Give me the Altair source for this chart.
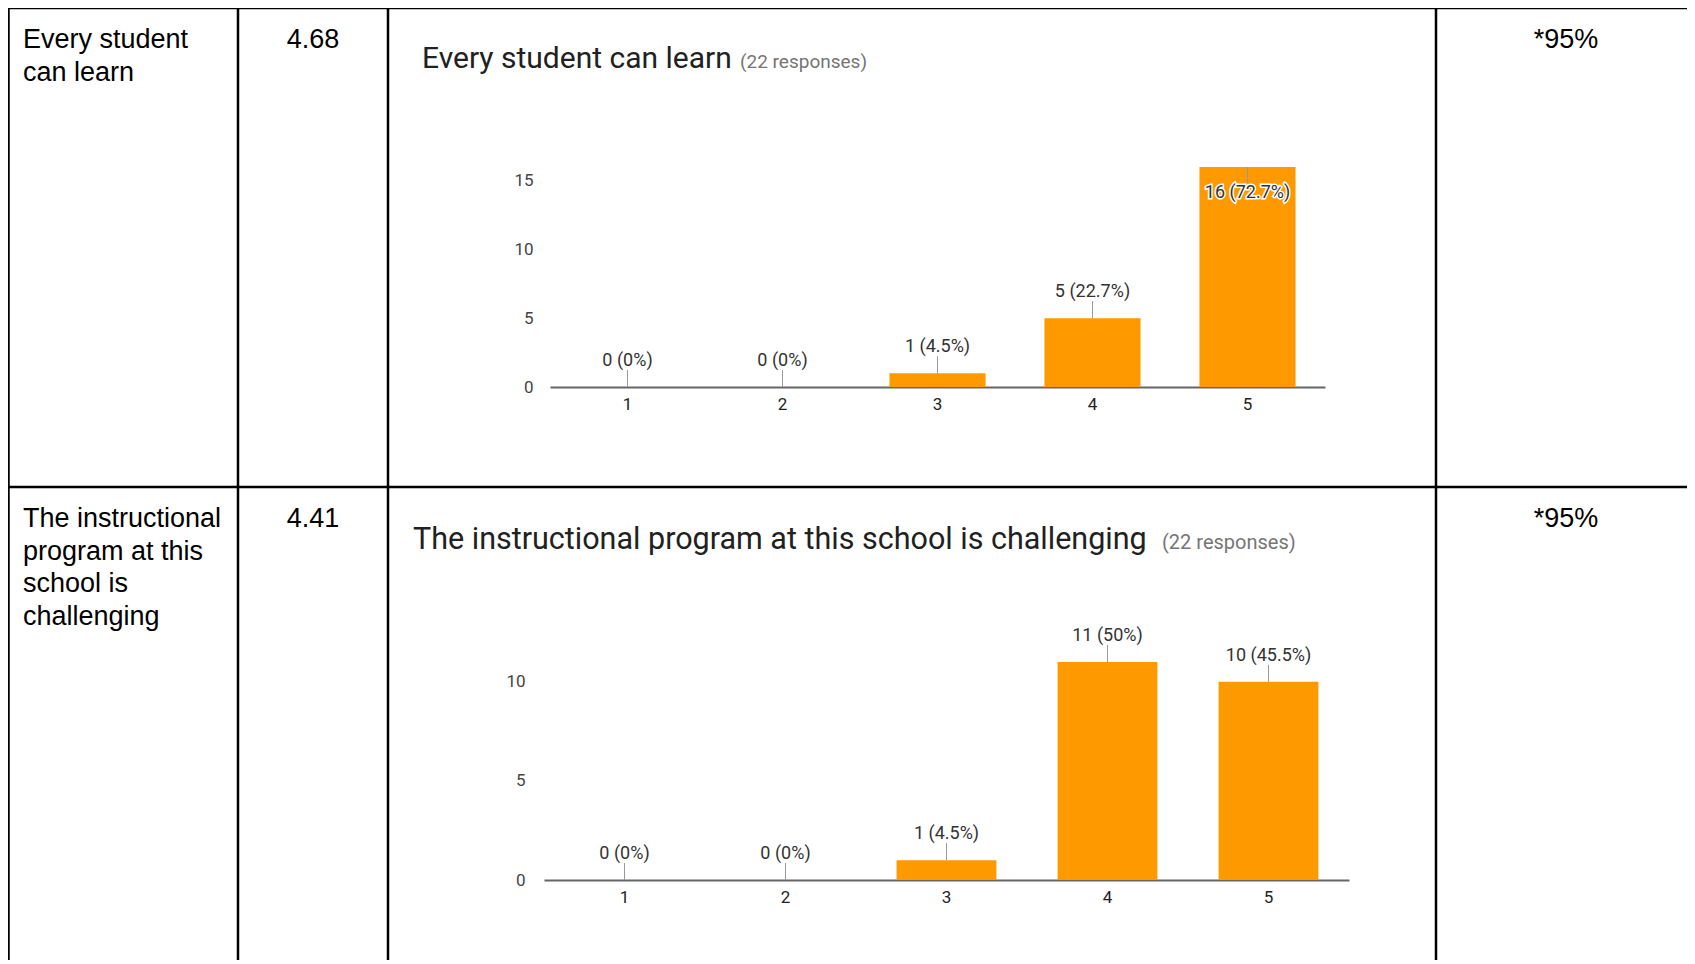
import altair as alt
import pandas as pd

# ---------------- data ----------------
row_labels = ["Every student\ncan learn",
              "The instructional\nprogram at this\nschool is\nchallenging"]
row_means = ["4.68", "4.41"]
row_pcts = ["*95%", "*95%"]
chart_titles = ["Every student can learn",
                "The instructional program at this school is challenging"]
responses = ["(22 responses)", "(22 responses)"]

ratings = ["1", "2", "3", "4", "5"]
counts_1 = [0, 0, 1, 5, 16]
pct_1 = [0, 0, 4.5, 22.7, 72.7]
counts_2 = [0, 0, 1, 11, 10]
pct_2 = [0, 0, 4.5, 50, 45.5]
y_ticks_1 = [0, 5, 10, 15]
y_ticks_2 = [0, 5, 10]

# ---------------- layout ----------------
W, H = 1679, 952
LINE = dict(color="black", strokeWidth=2.5)
one = alt.Data(values=[{}])


def hline(y, x1, x2):
    return alt.Chart(one).mark_rule(**LINE).encode(
        x=alt.value(x1), x2=alt.value(x2), y=alt.value(y))


def vline(x, y1, y2):
    return alt.Chart(one).mark_rule(**LINE).encode(
        x=alt.value(x), y=alt.value(y1), y2=alt.value(y2))


def text_at(txt, x, y, align="left", font="Liberation Sans", size=27,
            color="#000000"):
    return alt.Chart(alt.Data(values=[{"t": txt}])).mark_text(
        align=align, baseline="alphabetic", font=font, fontSize=size,
        color=color, lineBreak="\n", lineHeight=32.5
    ).encode(x=alt.value(x), y=alt.value(y), text="t:N")


def bar_chart(counts, pcts, ticks, xr, yr, ymax, ypad, inside_min):
    df = pd.DataFrame({"rating": ratings, "count": counts, "pct": pcts})
    df["label"] = [f"{c} ({p:g}%)" for c, p in zip(counts, pcts)]
    base = alt.Chart(df)
    x = alt.X("rating:O", sort=ratings, title=None,
              scale=alt.Scale(type="band", range=xr,
                              paddingInner=0.38, paddingOuter=0.19),
              axis=alt.Axis(orient="bottom", offset=yr[0] - H, labelAngle=0,
                            ticks=False, tickSize=0, grid=False,
                            domainColor="#666666", domainWidth=2,
                            labelFont="Roboto", labelFontSize=17,
                            labelColor="#222222", labelPadding=9))
    y = alt.Y("count:Q", title=None,
              scale=alt.Scale(domain=[0, ymax], range=yr, nice=False),
              axis=alt.Axis(orient="left", offset=-xr[0], values=ticks,
                            domain=False, ticks=False, tickSize=0, grid=False,
                            labelFont="Roboto", labelFontSize=17,
                            labelColor="#444444", labelPadding=ypad))
    above = base.transform_filter(f"datum.count < {inside_min}")
    inside = base.transform_filter(f"datum.count >= {inside_min}")
    bars = base.mark_bar(color="#FF9900").encode(x=x, y=y)
    r_above = above.mark_rule(color="#999999", strokeWidth=1,
                              y2Offset=-17).encode(x=x, y=y, y2="count:Q")
    r_inside = inside.mark_rule(color="#999999", strokeWidth=1,
                                y2Offset=16).encode(x=x, y=y, y2="count:Q")
    lab_kw = dict(font="Roboto", fontSize=18, baseline="middle")
    t_above = above.mark_text(dy=-26, color="#333333", **lab_kw).encode(
        x=x, y=y, text="label:N")
    t_halo = inside.mark_text(dy=26, color="white", stroke="white",
                              strokeWidth=3, **lab_kw).encode(
        x=x, y=y, text="label:N")
    t_inside = inside.mark_text(dy=26, color="#333333", **lab_kw).encode(
        x=x, y=y, text="label:N")
    return alt.layer(bars, r_above, r_inside, t_above, t_halo, t_inside)


# table grid
grid = [
    hline(0, 0, W),
    hline(479, 0, W),
    vline(0.5, 0, H),
    vline(230, 0, H),
    vline(380, 0, H),
    vline(1428, 0, H),
]

# table text
cells = [
    text_at(row_labels[0], 15, 40),
    text_at(row_labels[1], 15, 519),
    text_at(row_means[0], 305, 40, align="center"),
    text_at(row_means[1], 305, 519, align="center"),
    text_at(row_pcts[0], 1558, 40, align="center"),
    text_at(row_pcts[1], 1558, 519, align="center"),
    text_at(chart_titles[0], 414, 60, font="Roboto", size=30, color="#212121"),
    text_at(responses[0], 732, 60, font="Roboto", size=19, color="#757575"),
    text_at(chart_titles[1], 405, 541, font="Roboto", size=30.5,
            color="#212121"),
    text_at(responses[1], 1154, 541, font="Roboto", size=20, color="#757575"),
]

chart1 = bar_chart(counts_1, pct_1, y_ticks_1, [542, 1317], [379, 159], 16,
                   17, 16)
chart2 = bar_chart(counts_2, pct_2, y_ticks_2, [536, 1341], [872, 654], 11,
                   19, 99)

chart = alt.layer(*grid, *cells, chart1, chart2).resolve_scale(
    x="independent", y="independent"
).properties(
    width=W, height=H, padding=0,
    autosize=alt.AutoSizeParams(type="none"),
    background="white",
).configure_view(strokeWidth=0)

chart.save("out.html", embed_options={"renderer": "svg", "actions": False})
